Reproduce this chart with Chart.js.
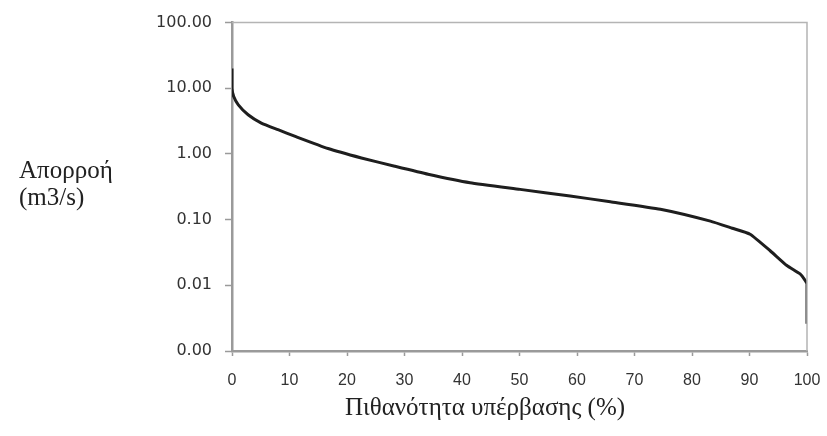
<!DOCTYPE html>
<html>
<head>
<meta charset="utf-8">
<script src="https://cdn.jsdelivr.net/npm/chart.js@4.4.1/dist/chart.umd.min.js"></script>
<style>
  body { margin: 0; background: #fff; }
  canvas { display: block; }
</style>
</head>
<body>
<canvas id="fdc" width="827" height="436"></canvas>
<script>
// flow duration curve
const exceedance = [0, 0, 0.3, 1.1, 2.8, 5.1, 8, 11, 16.7, 22.5, 28.3, 34.1, 41.4, 50.1, 58.8, 65.8, 74.5, 83.2, 87, 90.1, 93.6, 96.5, 98.8, 99.7, 100, 100];
const flow = [20, 10, 7.5, 5.6, 3.95, 2.95, 2.34, 1.85, 1.21, 0.87, 0.65, 0.49, 0.364, 0.289, 0.229, 0.187, 0.144, 0.095, 0.074, 0.06, 0.0336, 0.02, 0.0149, 0.0118, 0.0105, 0.0026];
const xTicks = [0, 10, 20, 30, 40, 50, 60, 70, 80, 90, 100];
const yTicks = [0.001, 0.01, 0.1, 1, 10, 100];

const yTitle = ["Απορροή", "(m3/s)"];
const xTitle = "Πιθανότητα υπέρβασης (%)";

const axisColor = "#9a9a9a";

// top/right frame plus the two axis titles (horizontal y title like the original)
const extras = {
  id: "extras",
  afterDraw(chart) {
    const { ctx, chartArea } = chart;
    ctx.save();
    ctx.strokeStyle = "#b4b4b4";
    ctx.lineWidth = 1.5;
    ctx.beginPath();
    ctx.moveTo(chartArea.left, chartArea.top);
    ctx.lineTo(chartArea.right, chartArea.top);
    ctx.lineTo(chartArea.right, chartArea.bottom);
    ctx.stroke();

    ctx.fillStyle = "#222";
    ctx.font = "25px 'Liberation Serif', 'Times New Roman', serif";
    ctx.textAlign = "left";
    ctx.textBaseline = "alphabetic";
    ctx.fillText(yTitle[0], 19, 178);
    ctx.fillText(yTitle[1], 19, 205);

    ctx.textAlign = "center";
    ctx.fillText(xTitle, 485, 415);
    ctx.restore();
  }
};

new Chart(document.getElementById("fdc"), {
  type: "line",
  data: {
    datasets: [{
      data: exceedance.map((x, i) => ({ x: x, y: flow[i] })),
      borderColor: "#1e1e1e",
      borderWidth: 3,
      pointRadius: 0,
      tension: 0.15,
      fill: false
    }]
  },
  options: {
    responsive: false,
    animation: false,
    layout: { padding: { top: 21, right: 20, bottom: 0, left: 0 } },
    plugins: { legend: { display: false }, tooltip: { enabled: false } },
    scales: {
      x: {
        type: "linear",
        min: 0,
        max: 100,
        afterFit: (s) => {
          s.height = 85;
          s.paddingLeft = 0;
          s.paddingRight = 0;
        },
        afterBuildTicks: (s) => { s.ticks = xTicks.map((v) => ({ value: v })); },
        border: { color: axisColor, width: 2.5 },
        grid: { drawOnChartArea: false, color: axisColor, tickLength: 5, tickWidth: 1.5 },
        ticks: {
          padding: 15,
          color: "#333",
          font: { family: "'Liberation Sans', Arial, sans-serif", size: 16 },
          maxRotation: 0
        }
      },
      y: {
        type: "logarithmic",
        min: 0.001,
        max: 100,
        afterFit: (s) => { s.width = 232; },
        afterBuildTicks: (s) => { s.ticks = yTicks.map((v) => ({ value: v })); },
        border: { color: axisColor, width: 2.5 },
        grid: { drawOnChartArea: false, color: axisColor, tickLength: 7, tickWidth: 1.5 },
        ticks: {
          padding: 13,
          color: "#333",
          font: { family: "'DejaVu Sans', sans-serif", size: 16 },
          callback: (v) => Number(v).toFixed(2)
        }
      }
    }
  },
  plugins: [extras]
});
</script>
</body>
</html>
